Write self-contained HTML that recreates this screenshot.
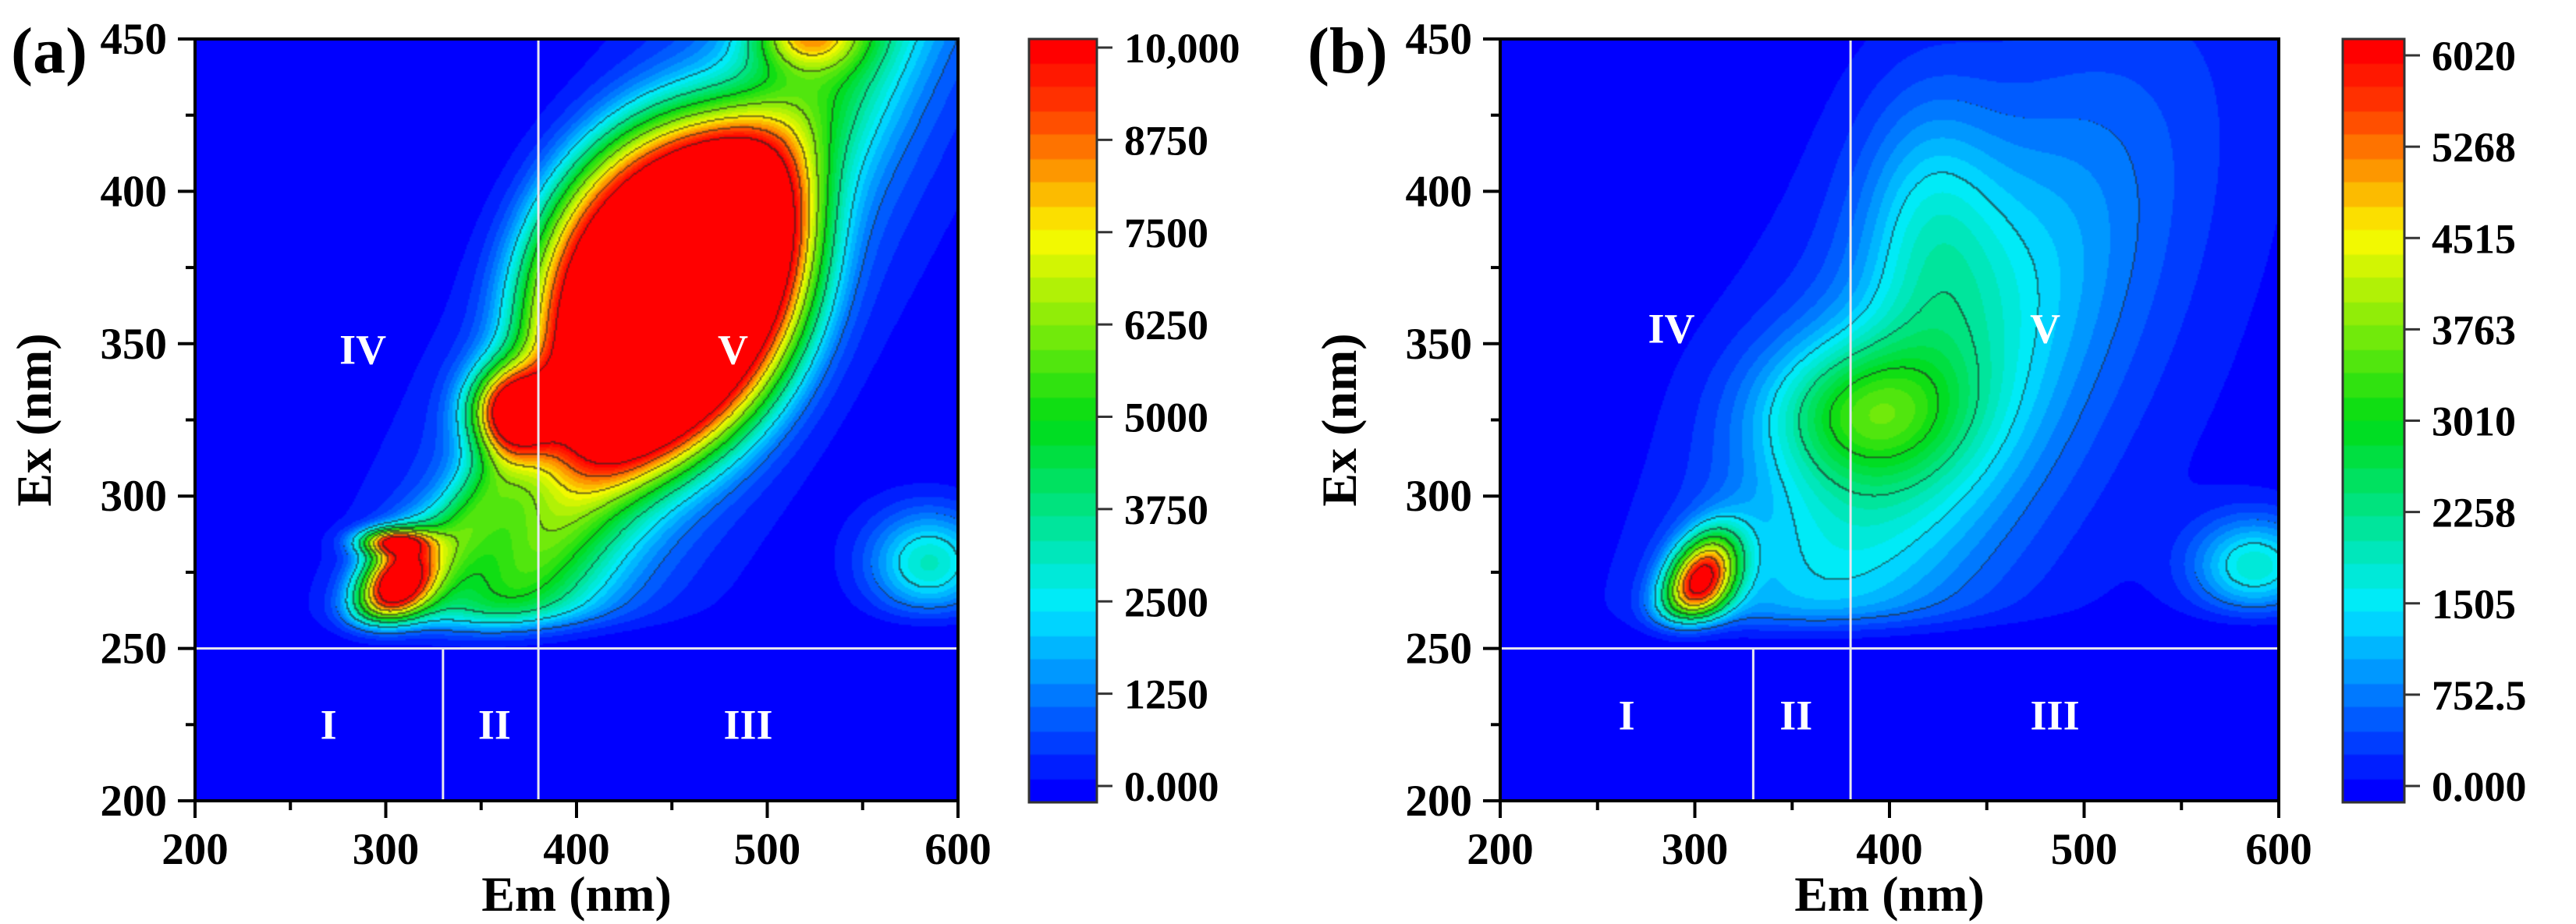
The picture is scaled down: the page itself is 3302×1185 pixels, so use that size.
<!DOCTYPE html>
<html><head><meta charset="utf-8">
<style>
html,body{margin:0;padding:0;background:#fff;}
#root{position:relative;width:3302px;height:1185px;overflow:hidden;font-family:"Liberation Serif",serif;font-weight:bold;color:#000;}
canvas{position:absolute;}
svg{position:absolute;left:0;top:0;}
</style></head>
<body>
<div id="root">
<canvas id="cva" width="489" height="489" style="left:250px;top:50px;width:978px;height:977px;"></canvas>
<canvas id="cvb" width="499" height="489" style="left:1923px;top:50px;width:998px;height:977px;"></canvas>
<canvas id="cba" width="1" height="400" style="left:1319px;top:50px;width:87px;height:979px;"></canvas>
<canvas id="cbb" width="1" height="400" style="left:3003px;top:50px;width:79px;height:979px;"></canvas>
<svg id="ov" width="3302" height="1185"></svg>
</div>
<script>
// ---- data ----
const emRange=[200,600];
const exRange=[200,450];
const emTicks=[200,300,400,500,600];
const exTicks=[200,250,300,350,400,450];
const cbTicksA=["0.000","1250","2500","3750","5000","6250","7500","8750","10,000"];
const cbTicksB=["0.000","752.5","1505","2258","3010","3763","4515","5268","6020"];
const maxA=10000, maxB=6020;
// peak components: [em, ex, amplitude, sigmaAlong, sigmaAcross, angleDeg, shapePower]
const peaksA=[
 [448,368,11500,64,46,15,4],
 [366,328,9500,15,10,0,2],
 [440,345,5500,130,22,45,2],
 [460,370,2000,170,45,45,2],
 [520,452,4500,20,8,0,2],
 [305,271,10500,15,9,25,2],
 [303,285,7000,12,3,0,2],
 [340,290,3000,30,10,40,2],
 [585,278,3200,22,12,0,2]
];
const peaksB=[
 [303,272,6000,14,9,30,2],
 [385,328,1800,35,16,0,2],
 [410,320,1500,90,35,40,2],
 [420,390,1000,25,30,0,2],
 [588,277,1800,22,11,0,2],
 [440,340,500,130,70,40,2]
];
const regionLabelsA=[["I",270,225],["II",357,225],["III",490,225],["IV",288,348],["V",482,348]];
const regionLabelsB=[["I",265,228],["II",352,228],["III",485,228],["IV",288,355],["V",480,355]];

function cmap(t){
  t=Math.max(0,Math.min(1,t));
  const st=[[0,[0,0,255]],[0.25,[0,235,255]],[0.5,[0,220,20]],[0.75,[250,250,0]],[0.92,[255,60,0]],[1,[255,0,0]]];
  for(let i=1;i<st.length;i++){ if(t<=st[i][0]){const a=st[i-1],b=st[i];const f=(t-a[0])/(b[0]-a[0]);
    return [0,1,2].map(k=>Math.round(a[1][k]+(b[1][k]-a[1][k])*f));}}
  return [255,0,0];
}
const NL=32;
function field(peaks,em,ex){
  let v=0;
  for(const p of peaks){
    const th=p[5]*Math.PI/180, dx=em-p[0], dy=ex-p[1];
    const u=dx*Math.cos(th)+dy*Math.sin(th), w=-dx*Math.sin(th)+dy*Math.cos(th);
    const r2=u*u/(p[3]*p[3])+w*w/(p[4]*p[4]);
    v+=p[2]*Math.exp(-0.5*Math.pow(r2,p[6]/2));
  }
  return v/(1+Math.exp(-(ex-258)/3));
}
function drawMap(id,peaks,max){
  const c=document.getElementById(id),ctx=c.getContext('2d');
  const W=c.width,H=c.height,img=ctx.createImageData(W,H);
  const lv=[],ln=[];
  for(let j=0;j<H;j++)for(let i=0;i<W;i++){
    const em=emRange[0]+(i+0.5)/W*(emRange[1]-emRange[0]);
    const ex=exRange[1]-(j+0.5)/H*(exRange[1]-exRange[0]);
    const v=field(peaks,em,ex)/max;
    const q=Math.min(NL-1,Math.floor(v*NL));
    lv.push(q); ln.push(Math.min(8,Math.floor(v*8)));
  }
  for(let j=0;j<H;j++)for(let i=0;i<W;i++){
    const k=j*W+i;let col=cmap(lv[k]/(NL-1));
    const l=ln[k];
    if(l>0&&((i+1<W&&ln[k+1]!==l)||(j+1<H&&ln[k+W]!==l))) col=col.map(x=>Math.round(x*0.35+25));
    img.data[k*4]=col[0];img.data[k*4+1]=col[1];img.data[k*4+2]=col[2];img.data[k*4+3]=255;
  }
  ctx.putImageData(img,0,0);
}
function drawBar(id){
  const c=document.getElementById(id),ctx=c.getContext('2d');
  for(let j=0;j<400;j++){const t=1-(j+0.5)/400;const q=Math.min(NL-1,Math.floor(t*NL));const col=cmap(q/(NL-1));
    ctx.fillStyle=`rgb(${col[0]},${col[1]},${col[2]})`;ctx.fillRect(0,j,1,1);}
}
drawMap('cva',peaksA,maxA);drawMap('cvb',peaksB,maxB);drawBar('cba');drawBar('cbb');

const NS='http://www.w3.org/2000/svg',ov=document.getElementById('ov');
function mk(tag,at,txt){const e=document.createElementNS(NS,tag);for(const k in at)e.setAttribute(k,at[k]);if(txt!==undefined)e.textContent=txt;ov.appendChild(e);return e;}
function panel(L,R,T,B,labs,letter,lx,cbL,cbR,cbTicks,tag){
  const sx=v=>L+(v-emRange[0])/(emRange[1]-emRange[0])*(R-L);
  const sy=v=>B-(v-exRange[0])/(exRange[1]-exRange[0])*(B-T);
  let e=mk('line',{x1:L,x2:R,y1:sy(250),y2:sy(250),stroke:'#e8e8f0','stroke-width':3});
  
  
  e=mk('line',{x1:sx(380),x2:sx(380),y1:T,y2:B,stroke:'#e8e8f0','stroke-width':3});
  
  
  e=mk('line',{x1:sx(330),x2:sx(330),y1:sy(250),y2:B,stroke:'#e8e8f0','stroke-width':3});
  
  
  for(const r of labs){
    e=mk('text',{x:sx(r[1]),y:sy(r[2])+18,'text-anchor':'middle','font-size':54,fill:'#fff','font-family':'Liberation Serif'},r[0]);
    
    
  }
  e=mk('rect',{x:L,y:T,width:R-L,height:B-T,fill:'none',stroke:'#000','stroke-width':4});
  
  
  for(let v=200;v<=600;v+=50){const maj=v%100===0;mk('line',{x1:sx(v),x2:sx(v),y1:B,y2:B+(maj?22:12),stroke:'#000','stroke-width':4});}
  for(const v of emTicks){e=mk('text',{x:sx(v),y:1108,'text-anchor':'middle','font-size':57},String(v));
    
    }
  for(let v=200;v<=450;v+=25){const maj=v%50===0;mk('line',{x1:L,x2:L-(maj?22:12),y1:sy(v),y2:sy(v),stroke:'#000','stroke-width':4});}
  for(const v of exTicks){e=mk('text',{x:L-36,y:sy(v)+19,'text-anchor':'end','font-size':57},String(v));
    
    }
  e=mk('text',{x:(L+R)/2,y:1168,'text-anchor':'middle','font-size':64},'Em (nm)');
  
  
  const ty=(T+B)/2, tx=L-185;
  e=mk('text',{x:tx,y:ty,'text-anchor':'middle','font-size':64,transform:`rotate(-90 ${tx} ${ty})`},'Ex (nm)');
  
  
  e=mk('text',{x:lx,y:93,'font-size':84},letter);
  
  
  e=mk('rect',{x:cbL,y:50,width:cbR-cbL,height:979,fill:'none',stroke:'#333','stroke-width':3});
  
  
  const y0=1008,y1=(tag==='a'?61:71);
  cbTicks.forEach((t,i)=>{const y=y0-(y0-y1)*i/(cbTicks.length-1);
    mk('line',{x1:cbR,x2:cbR+20,y1:y,y2:y,stroke:'#333','stroke-width':3});
    e=mk('text',{x:cbR+35,y:y+19,'font-size':54},t);
    
    });
}
panel(250,1228,50,1027,regionLabelsA,'(a)',14,1319,1406,cbTicksA,'a');
panel(1923,2921,50,1027,regionLabelsB,'(b)',1676,3003,3082,cbTicksB,'b');
</script>
</body></html>
